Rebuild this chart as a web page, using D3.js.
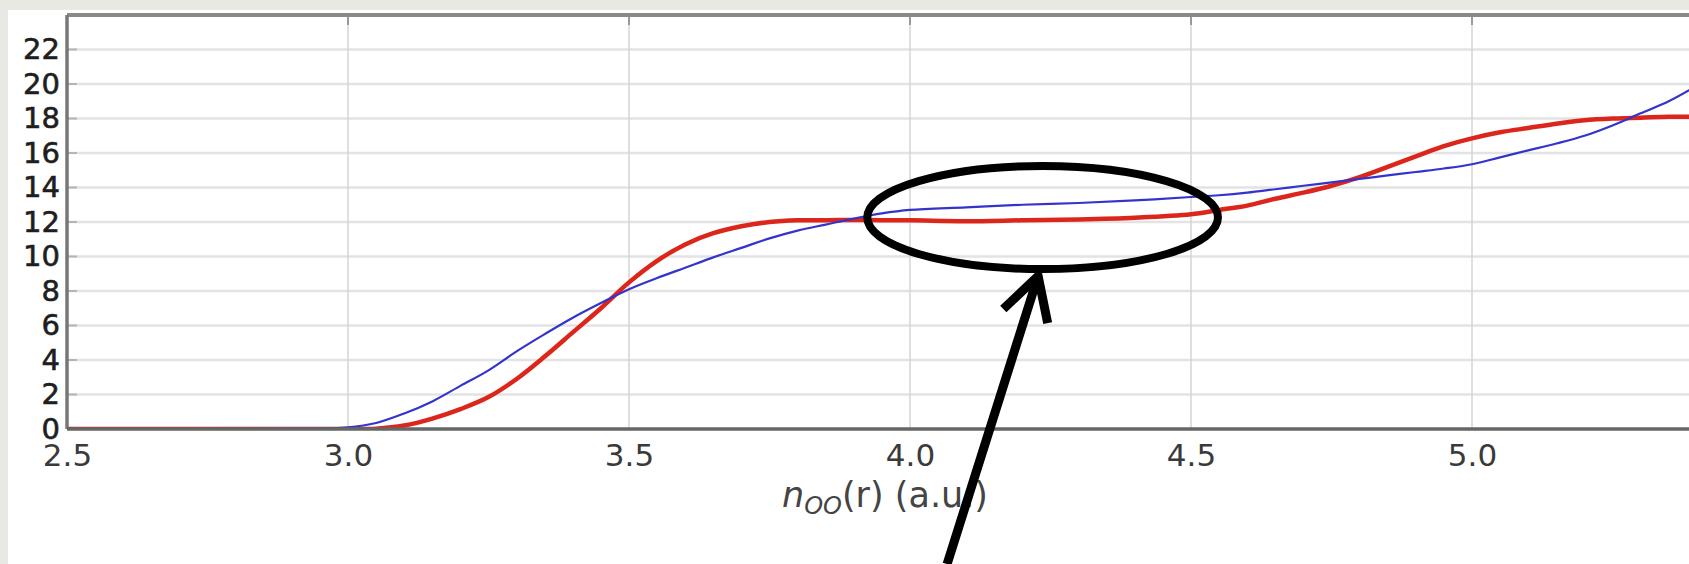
<!DOCTYPE html>
<html>
<head>
<meta charset="utf-8">
<script src="https://cdn.jsdelivr.net/npm/d3@7"></script>
<style>
  html, body { margin: 0; padding: 0; background: #e9e9e3; overflow: hidden; }
  svg { display: block; }
  text { font-family: "DejaVu Sans", sans-serif; }
</style>
</head>
<body>
<div id="chart"></div>
<script>
// Data
var rValues = [2.5, 2.9, 3.0, 3.05, 3.1, 3.15, 3.2, 3.25, 3.3, 3.35, 3.4, 3.45, 3.5, 3.55, 3.6, 3.65,
    3.7, 3.75, 3.8, 3.85, 3.9, 3.95, 4.0, 4.1, 4.2, 4.3, 4.4, 4.5, 4.55, 4.6, 4.65, 4.7, 4.75,
    4.8, 4.85, 4.9, 4.95, 5.0, 5.05, 5.1, 5.15, 5.2, 5.25, 5.3, 5.35, 5.4];

var blueValues = [0, 0.02, 0.1, 0.35, 0.9, 1.6, 2.5, 3.4, 4.5, 5.5, 6.45, 7.3, 8.1, 8.75, 9.35, 9.95,
    10.5, 11.05, 11.5, 11.85, 12.2, 12.5, 12.7, 12.85, 13.0, 13.1, 13.25, 13.45, 13.55, 13.7, 13.9, 14.1, 14.3,
    14.5, 14.7, 14.9, 15.1, 15.35, 15.75, 16.15, 16.55, 17.0, 17.6, 18.3, 19.0, 19.9];

var redValues = [0, 0, 0, 0.02, 0.2, 0.6, 1.15, 1.85, 2.9, 4.2, 5.6, 7.0, 8.5, 9.75, 10.7, 11.35,
    11.75, 12.0, 12.1, 12.1, 12.12, 12.1, 12.1, 12.05, 12.1, 12.15, 12.25, 12.45, 12.7, 12.95, 13.35, 13.7, 14.1,
    14.6, 15.2, 15.8, 16.4, 16.85, 17.2, 17.45, 17.7, 17.9, 18.0, 18.05, 18.1, 18.1];

var xTicks = [2.5, 3.0, 3.5, 4.0, 4.5, 5.0];
var yTicks = [0, 2, 4, 6, 8, 10, 12, 14, 16, 18, 20, 22];

// Annotation (data units): ellipse round the plateau, arrow pointing at it
var ellipseCenter = [4.236, 12.26];
var ellipseRadius = [0.312, 2.99];
var arrowTail = [4.066, -7.83];
var arrowTip = [4.228, 8.87];

// Define height and width of svg
var svgWidth = 1689;
var svgHeight = 564;

var margin = { top: 15, left: 67 };
var width = 562 * 2.9;
var height = 429 - margin.top;

var svg = d3.select("#chart")
    .append("svg")
    .attr("width", svgWidth)
    .attr("height", svgHeight);

// page background: gray strip then white sheet
svg.append("rect")
    .attr("width", svgWidth).attr("height", svgHeight)
    .attr("fill", "#e9e9e3");
svg.append("rect")
    .attr("x", 8).attr("y", 10)
    .attr("width", svgWidth).attr("height", svgHeight)
    .attr("fill", "#ffffff");

var chartGroup = svg.append("g")
    .attr("transform", `translate(${margin.left}, ${margin.top})`);

// Scales
var xLinearScale = d3.scaleLinear()
    .domain([2.5, 5.4])
    .range([0, width]);

var yLinearScale = d3.scaleLinear()
    .domain([0, 24])
    .range([height, 0]);

// Gridlines
chartGroup.append("g")
    .selectAll("line")
    .data(yTicks.slice(1))
    .enter()
    .append("line")
    .attr("x1", 0).attr("x2", width)
    .attr("y1", d => yLinearScale(d)).attr("y2", d => yLinearScale(d))
    .attr("stroke", "#e3e3e3")
    .attr("stroke-width", 2.5);

chartGroup.append("g")
    .selectAll("line")
    .data(xTicks.slice(1))
    .enter()
    .append("line")
    .attr("x1", d => xLinearScale(d)).attr("x2", d => xLinearScale(d))
    .attr("y1", 0).attr("y2", height)
    .attr("stroke", "#d4d4d4")
    .attr("stroke-width", 1.5);

// Axes
var bottomAxis = d3.axisBottom(xLinearScale)
    .tickValues(xTicks)
    .tickFormat(d3.format(".1f"))
    .tickSize(0)
    .tickPadding(15);

var leftAxis = d3.axisLeft(yLinearScale)
    .tickValues(yTicks)
    .tickSize(0)
    .tickPadding(7);

var xAxisGroup = chartGroup.append("g")
    .attr("transform", `translate(0, ${height})`)
    .call(bottomAxis);
xAxisGroup.select(".domain").remove();
xAxisGroup.selectAll("text")
    .attr("font-size", "31px")
    .attr("font-family", "DejaVu Sans")
    .attr("fill", "#3a3a3a");

var yAxisGroup = chartGroup.append("g")
    .call(leftAxis);
yAxisGroup.select(".domain").remove();
yAxisGroup.selectAll("text")
    .attr("font-size", "29px")
    .attr("font-family", "DejaVu Sans")
    .attr("fill", "#1e1e1e")
    .attr("stroke", "#1e1e1e")
    .attr("stroke-width", 0.6);

// small inward ticks
chartGroup.append("g")
    .selectAll("line")
    .data(yTicks.slice(1))
    .enter()
    .append("line")
    .attr("x1", 0).attr("x2", 10)
    .attr("y1", d => yLinearScale(d)).attr("y2", d => yLinearScale(d))
    .attr("stroke", "#b5b5b5")
    .attr("stroke-width", 2);

chartGroup.append("g")
    .selectAll("line")
    .data(xTicks.slice(1))
    .enter()
    .append("line")
    .attr("x1", d => xLinearScale(d)).attr("x2", d => xLinearScale(d))
    .attr("y1", 0).attr("y2", 10)
    .attr("stroke", "#9a9a9a")
    .attr("stroke-width", 2);

// Curves
chartGroup.append("clipPath")
    .attr("id", "plot-clip")
    .append("rect")
    .attr("x", 0).attr("y", -5)
    .attr("width", width).attr("height", height + 5);

var line = d3.line()
    .x(d => xLinearScale(d[0]))
    .y(d => yLinearScale(d[1]))
    .curve(d3.curveCatmullRom.alpha(0.5));

var curves = chartGroup.append("g")
    .attr("clip-path", "url(#plot-clip)");

curves.append("path")
    .datum(rValues.map((r, i) => [r, redValues[i]]))
    .attr("d", line)
    .attr("fill", "none")
    .attr("stroke", "#dc261b")
    .attr("stroke-width", 4.5);

curves.append("path")
    .datum(rValues.map((r, i) => [r, blueValues[i]]))
    .attr("d", line)
    .attr("fill", "none")
    .attr("stroke", "#3434cc")
    .attr("stroke-width", 2.2);

// Spines
chartGroup.append("line")
    .attr("x1", 0).attr("x2", width)
    .attr("y1", 0).attr("y2", 0)
    .attr("stroke", "#8a8a8a")
    .attr("stroke-width", 4);

chartGroup.append("line")
    .attr("x1", 0).attr("x2", 0)
    .attr("y1", 0).attr("y2", height)
    .attr("stroke", "#777")
    .attr("stroke-width", 3.5);

chartGroup.append("line")
    .attr("x1", 0).attr("x2", width)
    .attr("y1", height).attr("y2", height)
    .attr("stroke", "#666")
    .attr("stroke-width", 3.5);

// Axis title n_OO(r) (a.u.)
var xTitle = chartGroup.append("text")
    .attr("x", 818)
    .attr("y", height + 78)
    .attr("text-anchor", "middle")
    .attr("font-size", "35px")
    .attr("fill", "#444");
xTitle.append("tspan").attr("font-style", "italic").text("n");
xTitle.append("tspan").attr("font-style", "italic")
    .attr("font-size", "24px").attr("dy", 7).text("OO");
xTitle.append("tspan").attr("dy", -7).text("(r) (a.u.)");

// Annotation: ellipse and arrow
chartGroup.append("ellipse")
    .attr("cx", xLinearScale(ellipseCenter[0]))
    .attr("cy", yLinearScale(ellipseCenter[1]))
    .attr("rx", xLinearScale(ellipseCenter[0] + ellipseRadius[0]) - xLinearScale(ellipseCenter[0]))
    .attr("ry", yLinearScale(ellipseCenter[1] - ellipseRadius[1]) - yLinearScale(ellipseCenter[1]))
    .attr("fill", "none")
    .attr("stroke", "#000")
    .attr("stroke-width", 8);

var tx = xLinearScale(arrowTail[0]), ty = yLinearScale(arrowTail[1]);
var hx = xLinearScale(arrowTip[0]), hy = yLinearScale(arrowTip[1]);
var backAngle = Math.atan2(ty - hy, tx - hx);
var wing = 48, spread = 29 * Math.PI / 180;

chartGroup.append("path")
    .attr("d", `M${tx},${ty}L${hx},${hy}` +
        `M${hx + wing * Math.cos(backAngle + spread)},${hy + wing * Math.sin(backAngle + spread)}` +
        `L${hx},${hy}` +
        `L${hx + wing * Math.cos(backAngle - spread)},${hy + wing * Math.sin(backAngle - spread)}`)
    .attr("fill", "none")
    .attr("stroke", "#000")
    .attr("stroke-width", 9)
    .attr("stroke-linejoin", "miter");
</script>
</body>
</html>
